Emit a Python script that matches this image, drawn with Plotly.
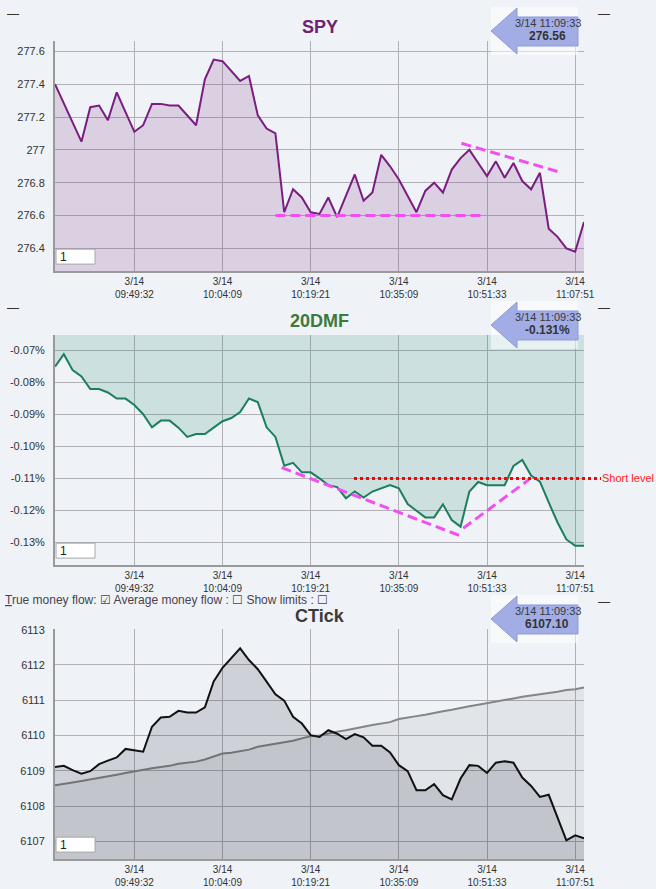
import plotly.graph_objects as go
from plotly.subplots import make_subplots

# ---------------- data ----------------
IDX = list(range(61))
XTICK_IDX = [9, 19, 29, 39, 49, 59]
XTICK_TEXT = ["3/14<br>09:49:32", "3/14<br>10:04:09", "3/14<br>10:19:21",
              "3/14<br>10:35:09", "3/14<br>10:51:33", "3/14<br>11:07:51"]

SPY = [277.40, 277.28, 277.16, 277.05, 277.26, 277.27, 277.18, 277.35, 277.23, 277.11,
       277.15, 277.28, 277.28, 277.27, 277.27, 277.21, 277.15, 277.43, 277.55, 277.54,
       277.48, 277.42, 277.45, 277.21, 277.13, 277.10, 276.62, 276.76, 276.71, 276.62,
       276.61, 276.71, 276.59, 276.72, 276.85, 276.69, 276.74, 276.97, 276.90, 276.82,
       276.72, 276.62, 276.75, 276.80, 276.74, 276.88, 276.95, 277.00, 276.92, 276.84,
       276.93, 276.83, 276.92, 276.81, 276.76, 276.86, 276.52, 276.47, 276.40, 276.38,
       276.56]
SPY_TICKS = [276.4, 276.6, 276.8, 277.0, 277.2, 277.4, 277.6]
SPY_TICKTEXT = ["276.4", "276.6", "276.8", "277", "277.2", "277.4", "277.6"]
SPY_SUPPORT = ([25.0, 48.7], [276.60, 276.60])
SPY_RESIST = ([46.1, 57.2], [277.04, 276.865])

DMF = [-0.0750, -0.0711, -0.0761, -0.0781, -0.0820, -0.0820, -0.0831, -0.0850, -0.0850, -0.0870,
       -0.0899, -0.0940, -0.0919, -0.0919, -0.0941, -0.0970, -0.0961, -0.0961, -0.0941, -0.0921,
       -0.0911, -0.0892, -0.0850, -0.0861, -0.0940, -0.0970, -0.1060, -0.1051, -0.1081, -0.1081,
       -0.1100, -0.1121, -0.1127, -0.1162, -0.1141, -0.1160, -0.1141, -0.1131, -0.1121, -0.1131,
       -0.1180, -0.1201, -0.1222, -0.1222, -0.1181, -0.1230, -0.1251, -0.1141, -0.1111, -0.1121,
       -0.1121, -0.1121, -0.1061, -0.1042, -0.1091, -0.1110, -0.1175, -0.1238, -0.1291, -0.1311,
       -0.1311]
DMF_TICKS = [-0.13, -0.12, -0.11, -0.10, -0.09, -0.08, -0.07]
DMF_TICKTEXT = ["-0.13%", "-0.12%", "-0.11%", "-0.10%", "-0.09%", "-0.08%", "-0.07%"]
DMF_TREND_DOWN = ([25.7, 46.2], [-0.1066, -0.1282])
DMF_TREND_UP = ([46.3, 53.8], [-0.1256, -0.1103])
SHORT_LEVEL = -0.110

CTICK = [6109.11, 6109.14, 6109.02, 6108.92, 6108.99, 6109.19, 6109.29, 6109.38, 6109.62, 6109.59,
         6109.54, 6110.25, 6110.51, 6110.53, 6110.70, 6110.65, 6110.65, 6110.80, 6111.53, 6111.92,
         6112.19, 6112.47, 6112.14, 6111.88, 6111.53, 6111.17, 6110.99, 6110.53, 6110.34, 6110.01,
         6109.96, 6110.15, 6110.05, 6109.90, 6110.04, 6109.95, 6109.71, 6109.71, 6109.52, 6109.16,
         6108.99, 6108.45, 6108.45, 6108.62, 6108.31, 6108.19, 6108.78, 6109.16, 6109.14, 6108.94,
         6109.23, 6109.27, 6109.23, 6108.81, 6108.57, 6108.26, 6108.32, 6107.67, 6107.03, 6107.17,
         6107.09]
CTICK_AVG = [6108.59, 6108.64, 6108.67, 6108.71, 6108.75, 6108.81, 6108.85, 6108.89, 6108.94, 6108.99,
             6109.02, 6109.07, 6109.11, 6109.14, 6109.20, 6109.23, 6109.26, 6109.32, 6109.40, 6109.49,
             6109.51, 6109.55, 6109.60, 6109.68, 6109.72, 6109.77, 6109.82, 6109.85, 6109.92, 6109.98,
             6110.00, 6110.06, 6110.11, 6110.15, 6110.19, 6110.25, 6110.30, 6110.33, 6110.38, 6110.47,
             6110.50, 6110.55, 6110.59, 6110.65, 6110.69, 6110.73, 6110.79, 6110.83, 6110.87, 6110.91,
             6110.96, 6111.01, 6111.05, 6111.10, 6111.13, 6111.17, 6111.20, 6111.24, 6111.29, 6111.31,
             6111.36]
CTICK_TICKS = [6107, 6108, 6109, 6110, 6111, 6112, 6113]

TITLES = ["SPY", "20DMF", "CTick"]
TITLE_COLORS = ["#6e2274", "#3b7a3c", "#3a3a3a"]
LAST_TIME = "3/14 11:09:33"
LAST_VALUES = ["276.56", "-0.131%", "6107.10"]

# ---------------- figure ----------------
BG = "#eff2f6"
GRID = "#b0b0b6"
FONT = "Liberation Sans"
PLOT_H = 230.0
PLOT_W = 529.0
LEFT = 55.0
TITLE_OFFSETS = [14, 14.3, 12.5]

fig = make_subplots(rows=3, cols=1)

fig.add_trace(go.Scatter(x=IDX, y=SPY, mode="lines", line=dict(color="#7a1c80", width=2),
                         fill="tozeroy", fillcolor="rgba(120,40,130,0.17)",
                         showlegend=False, hoverinfo="skip"), row=1, col=1)
for xs, ys in (SPY_SUPPORT, SPY_RESIST):
    fig.add_trace(go.Scatter(x=xs, y=ys, mode="lines",
                             line=dict(color="#f050f0", width=3, dash="10px,5px"),
                             showlegend=False, hoverinfo="skip"), row=1, col=1)

fig.add_trace(go.Scatter(x=IDX, y=DMF, mode="lines", line=dict(color="#1b7f5c", width=2),
                         fill="tozeroy", fillcolor="rgba(30,130,110,0.16)",
                         showlegend=False, hoverinfo="skip"), row=2, col=1)
for xs, ys in (DMF_TREND_DOWN, DMF_TREND_UP):
    fig.add_trace(go.Scatter(x=xs, y=ys, mode="lines",
                             line=dict(color="#f050f0", width=3, dash="10px,5px"),
                             showlegend=False, hoverinfo="skip"), row=2, col=1)

fig.add_trace(go.Scatter(x=IDX, y=CTICK_AVG, mode="lines", line=dict(color="#858585", width=2),
                         fill="tozeroy", fillcolor="rgba(10,15,30,0.06)",
                         showlegend=False, hoverinfo="skip"), row=3, col=1)
fig.add_trace(go.Scatter(x=IDX, y=CTICK, mode="lines", line=dict(color="#111111", width=2),
                         fill="tozeroy", fillcolor="rgba(10,15,30,0.14)",
                         showlegend=False, hoverinfo="skip"), row=3, col=1)

domains = [[0.7188, 1.0], [0.3594, 0.6406], [0.0, 0.2812]]
yranges = [[276.262, 277.663], [-0.1371, -0.0651], [6106.5, 6113.02]]
yticks = [(SPY_TICKS, SPY_TICKTEXT), (DMF_TICKS, DMF_TICKTEXT),
          (CTICK_TICKS, [str(v) for v in CTICK_TICKS])]

for i in range(3):
    xa = "xaxis" if i == 0 else f"xaxis{i+1}"
    ya = "yaxis" if i == 0 else f"yaxis{i+1}"
    fig.layout[xa].update(domain=[0, 1], range=[0, 60], tickvals=XTICK_IDX, ticktext=XTICK_TEXT,
                          showgrid=True, gridcolor=GRID, gridwidth=1, zeroline=False,
                          showline=True, linecolor="#9a9a9a", linewidth=2, ticks="",
                          automargin=False,
                          tickfont=dict(family=FONT, size=10, color="#333"), fixedrange=True)
    fig.layout[ya].update(domain=domains[i], range=yranges[i], tickvals=yticks[i][0],
                          ticktext=yticks[i][1], showgrid=True, gridcolor=GRID, gridwidth=1,
                          zeroline=False, showline=True, linecolor="#9a9a9a", linewidth=2,
                          ticks="", ticklabelstandoff=6, automargin=False,
                          tickfont=dict(family=FONT, size=11, color="#333"), fixedrange=True)

shapes = []
annotations = []


def dx(px):
    return (px - LEFT) / PLOT_W


def dy(off_above_top):
    return 1 + off_above_top / PLOT_H


for i in range(3):
    sfx = "" if i == 0 else str(i + 1)
    xr = f"x{sfx} domain"
    yr = f"y{sfx} domain"
    # title
    annotations.append(dict(xref=xr, yref=yr, x=0.5, y=dy(TITLE_OFFSETS[i]),
                            text=f"<b>{TITLES[i]}</b>",
                            showarrow=False, xanchor="center", yanchor="middle",
                            font=dict(family=FONT, size=18, color=TITLE_COLORS[i])))
    # last-value arrow badge
    shapes.append(dict(type="rect", xref=xr, yref=yr, x0=dx(491), x1=dx(578), y0=dy(-14), y1=dy(34),
                       fillcolor="rgba(255,255,255,0.55)", line=dict(width=0), layer="above"))
    path = (f"M {dx(491)} {dy(10)} L {dx(517)} {dy(33)} L {dx(517)} {dy(24)} "
            f"L {dx(578)} {dy(24)} L {dx(578)} {dy(-5)} L {dx(517)} {dy(-5)} "
            f"L {dx(517)} {dy(-13)} Z")
    shapes.append(dict(type="path", xref=xr, yref=yr, path=path, fillcolor="#a2ade6",
                       line=dict(color="#8d9ad9", width=1), layer="above"))
    annotations.append(dict(xref=xr, yref=yr, x=dx(548), y=dy(18), text=LAST_TIME, showarrow=False,
                            xanchor="center", yanchor="middle",
                            font=dict(family=FONT, size=11, color="#3a3a3a")))
    annotations.append(dict(xref=xr, yref=yr, x=dx(547), y=dy(5), text=f"<b>{LAST_VALUES[i]}</b>",
                            showarrow=False, xanchor="center", yanchor="middle",
                            font=dict(family=FONT, size=12, color="#333")))
    # dashes
    annotations.append(dict(xref=xr, yref=yr, x=dx(604), y=dy(27), text="—", showarrow=False,
                            xanchor="center", yanchor="middle",
                            font=dict(family=FONT, size=12, color="#333")))
    if i < 2:
        annotations.append(dict(xref=xr, yref=yr, x=dx(13), y=dy(27), text="—", showarrow=False,
                                xanchor="center", yanchor="middle",
                                font=dict(family=FONT, size=12, color="#333")))
    # "1" input box
    shapes.append(dict(type="rect", xref=xr, yref=yr, x0=0.002, x1=dx(95), y0=0.03, y1=0.095,
                       fillcolor="white", line=dict(color="#a8a8a8", width=1), layer="above"))
    annotations.append(dict(xref=xr, yref=yr, x=dx(58), y=0.0625, text="1", showarrow=False,
                            xanchor="left", yanchor="middle",
                            font=dict(family=FONT, size=12, color="#222")))

# short level line (extends past the plot edge)
shapes.append(dict(type="line", xref="x2 domain", yref="y2", x0=dx(354), x1=dx(601),
                   y0=SHORT_LEVEL, y1=SHORT_LEVEL, line=dict(color="#ff0000", width=3, dash="dot"),
                   layer="above"))
annotations.append(dict(xref="x2 domain", yref="y2", x=dx(600), y=SHORT_LEVEL, text="Short level",
                        showarrow=False, xanchor="left", yanchor="middle",
                        font=dict(family=FONT, size=11, color="#ff2020")))

# checkbox row
annotations.append(dict(xref="x3 domain", yref="y3 domain", x=dx(3), y=dy(28.5),
                        text="<u>T</u>rue money flow: ☑ Average money flow : ☐ Show limits : ☐",
                        showarrow=False, xanchor="left", yanchor="middle",
                        font=dict(family=FONT, size=12, color="#4a4250")))

fig.update_layout(width=656, height=889, margin=dict(l=55, r=72, t=41, b=30),
                  paper_bgcolor=BG, plot_bgcolor=BG, shapes=shapes, annotations=annotations,
                  showlegend=False, hovermode=False)

fig.write_html("out.html", config={"displayModeBar": False},
               post_script="document.body.style.margin='0';document.body.style.overflow='hidden';"
                           "document.body.style.background='#eff2f6';")
